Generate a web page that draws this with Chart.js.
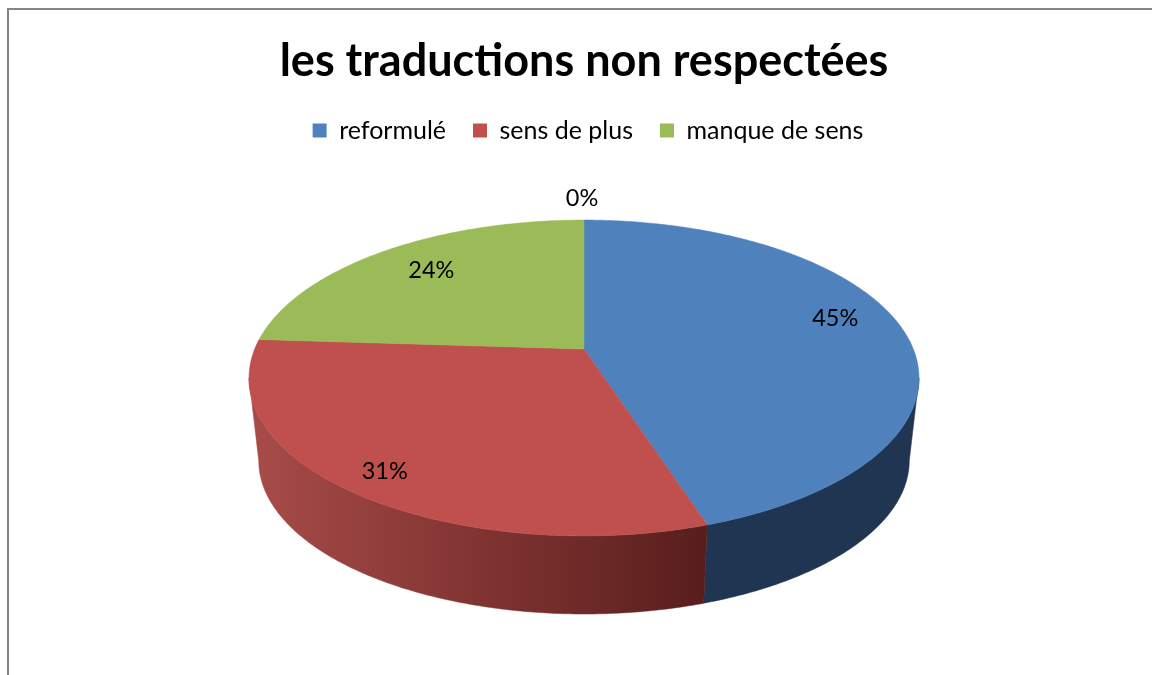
<!DOCTYPE html>
<html>
<head>
<meta charset="utf-8">
<title>les traductions non respectées</title>
<script src="https://cdn.jsdelivr.net/npm/chart.js@4/dist/chart.umd.min.js"></script>
<style>
    html, body { margin: 0; padding: 0; background: #fff; overflow: hidden; }
    #frame { position: absolute; left: 7px; top: 8px; width: 1200px; height: 700px; border-left: 2px solid #868686; border-top: 2px solid #868686; }
    #chart { position: absolute; left: 0; top: 0; }
</style>
</head>
<body>
<div id="frame"></div>
<canvas id="chart" width="1152" height="675"></canvas>
<script>
var titleText = 'les traductions non respectées';
var categories = ['reformulé', 'sens de plus', 'manque de sens', ''];
var values = [45, 31, 24, 0];
var colors = ['#4f81bd', '#c0504d', '#9bbb59', '#8064a2'];

// how far out each label sits (1 = rim of the disc), and a nudge in pixels
var labelRadius = [0.79, 0.875, 0.75, 1.21];
var labelNudgeX = [0, 3, 1, -2];
var labelNudgeY = [-12, 2, -3, 1];

var fontName = 'Lato, Carlito, sans-serif';
var perspective = 0.1835;   // how much the front of the disc is enlarged
var tilt = 0.943;           // height of the top ellipse / half its width
var depth = 0.233;          // thickness of the side / half the width
var bottomScale = 0.971;    // the lower rim is a bit smaller

// geometry of the disc, taken from the chart area
function discShape(chart) {
    var area = chart.chartArea;
    var rx = area.width / 2;
    var h = rx * tilt;
    var k = perspective;
    var top = area.bottom - rx * depth - h;
    return {
        cx: (area.left + area.right) / 2,
        cy: top + h / 2 - (h / 2) * k,
        rimX: rx * Math.sqrt(1 - k * k),
        rimY: (h / 2) * (1 - k * k),
        bottom: area.bottom
    };
}

// angle comes from the arc element (0 = 3 o'clock), r is 1 on the rim
function project(d, angle, r, lower) {
    var u = Math.cos(angle) * r;
    var v = Math.sin(angle) * r;
    var w = 1 - perspective * v;
    if (lower) {
        var cy2 = d.bottom - bottomScale * d.rimY / (1 - perspective);
        return { x: d.cx + bottomScale * d.rimX * u / w, y: cy2 + bottomScale * d.rimY * v / w };
    }
    return { x: d.cx + d.rimX * u / w, y: d.cy + d.rimY * v / w };
}

function rimPoints(d, start, end, lower) {
    var steps = Math.max(2, Math.ceil((end - start) / 0.01));
    var points = [];
    for (var i = 0; i <= steps; i++) {
        points.push(project(d, start + (end - start) * i / steps, 1, lower));
    }
    return points;
}

function sideFill(ctx, chart, i) {
    if (i !== 1) {
        return '#1f3552';
    }
    var area = chart.chartArea;
    var g = ctx.createLinearGradient(area.left + 9, 0, area.right - 214, 0);
    g.addColorStop(0, '#a64b48');
    g.addColorStop(0.45, '#843634');
    g.addColorStop(1, '#581e1c');
    return g;
}

function fillPath(ctx, points, fill) {
    ctx.beginPath();
    points.forEach(function (p, n) {
        if (n === 0) ctx.moveTo(p.x, p.y);
        else ctx.lineTo(p.x, p.y);
    });
    ctx.closePath();
    ctx.fillStyle = fill;
    ctx.strokeStyle = fill;
    ctx.lineWidth = 0.5;   // hides the seams between slices
    ctx.fill();
    ctx.stroke();
}

var pie3d = {
    id: 'pie3d',
    afterLayout: function (chart) {
        // the legend sits a little right of the title
        chart.legend.left += 4;
        chart.legend.right += 4;
    },
    beforeDatasetDraw: function (chart) {
        var ctx = chart.ctx;
        var d = discShape(chart);
        var arcs = chart.getDatasetMeta(0).data;
        // only the front of the side is visible, between the widest points
        var frontStart = Math.asin(perspective);
        var frontEnd = Math.PI - frontStart;

        ctx.save();
        arcs.forEach(function (arc, i) {
            var start = Math.max(arc.startAngle, frontStart);
            var end = Math.min(arc.endAngle, frontEnd);
            if (end <= start) return;
            var upper = rimPoints(d, start, end, false);
            var lower = rimPoints(d, start, end, true).reverse();
            fillPath(ctx, upper.concat(lower), sideFill(ctx, chart, i));
        });
        arcs.forEach(function (arc, i) {
            if (arc.endAngle <= arc.startAngle) return;
            var slice = [{ x: d.cx, y: d.cy }].concat(rimPoints(d, arc.startAngle, arc.endAngle, false));
            fillPath(ctx, slice, colors[i]);
        });
        ctx.restore();
        return false;
    },
    afterDatasetsDraw: function (chart) {
        var ctx = chart.ctx;
        var d = discShape(chart);
        var arcs = chart.getDatasetMeta(0).data;
        var total = values.reduce(function (a, b) { return a + b; }, 0);

        ctx.save();
        ctx.font = '23.5px ' + fontName;
        ctx.fillStyle = '#000';
        ctx.textAlign = 'center';
        ctx.textBaseline = 'middle';
        arcs.forEach(function (arc, i) {
            var p = project(d, (arc.startAngle + arc.endAngle) / 2, labelRadius[i], false);
            ctx.fillText(Math.round(values[i] / total * 100) + '%', p.x + labelNudgeX[i], p.y + labelNudgeY[i]);
        });
        ctx.restore();
    }
};

var config = {
    type: 'pie',
    data: {
        labels: categories,
        datasets: [{
            data: values,
            backgroundColor: colors,
            borderWidth: 0
        }]
    },
    options: {
        responsive: false,
        animation: false,
        layout: {
            padding: { left: 249, right: 233, bottom: 61 }
        },
        plugins: {
            title: {
                display: true,
                text: titleText,
                color: '#000',
                font: { family: fontName, size: 45, weight: 'bold' },
                padding: { top: 34, bottom: 3 }
            },
            legend: {
                position: 'top',
                labels: {
                    color: '#000',
                    font: { family: fontName, size: 25 },
                    boxWidth: 14,
                    boxHeight: 14,
                    padding: 27,
                    filter: function (item) { return item.text !== ''; }
                }
            },
            tooltip: { enabled: false }
        }
    },
    plugins: [pie3d]
};

var ctx = document.getElementById('chart').getContext('2d');
ctx.letterSpacing = '0.01px';   // no ti ligature in the title
var chart = new Chart(ctx, config);
</script>
</body>
</html>
